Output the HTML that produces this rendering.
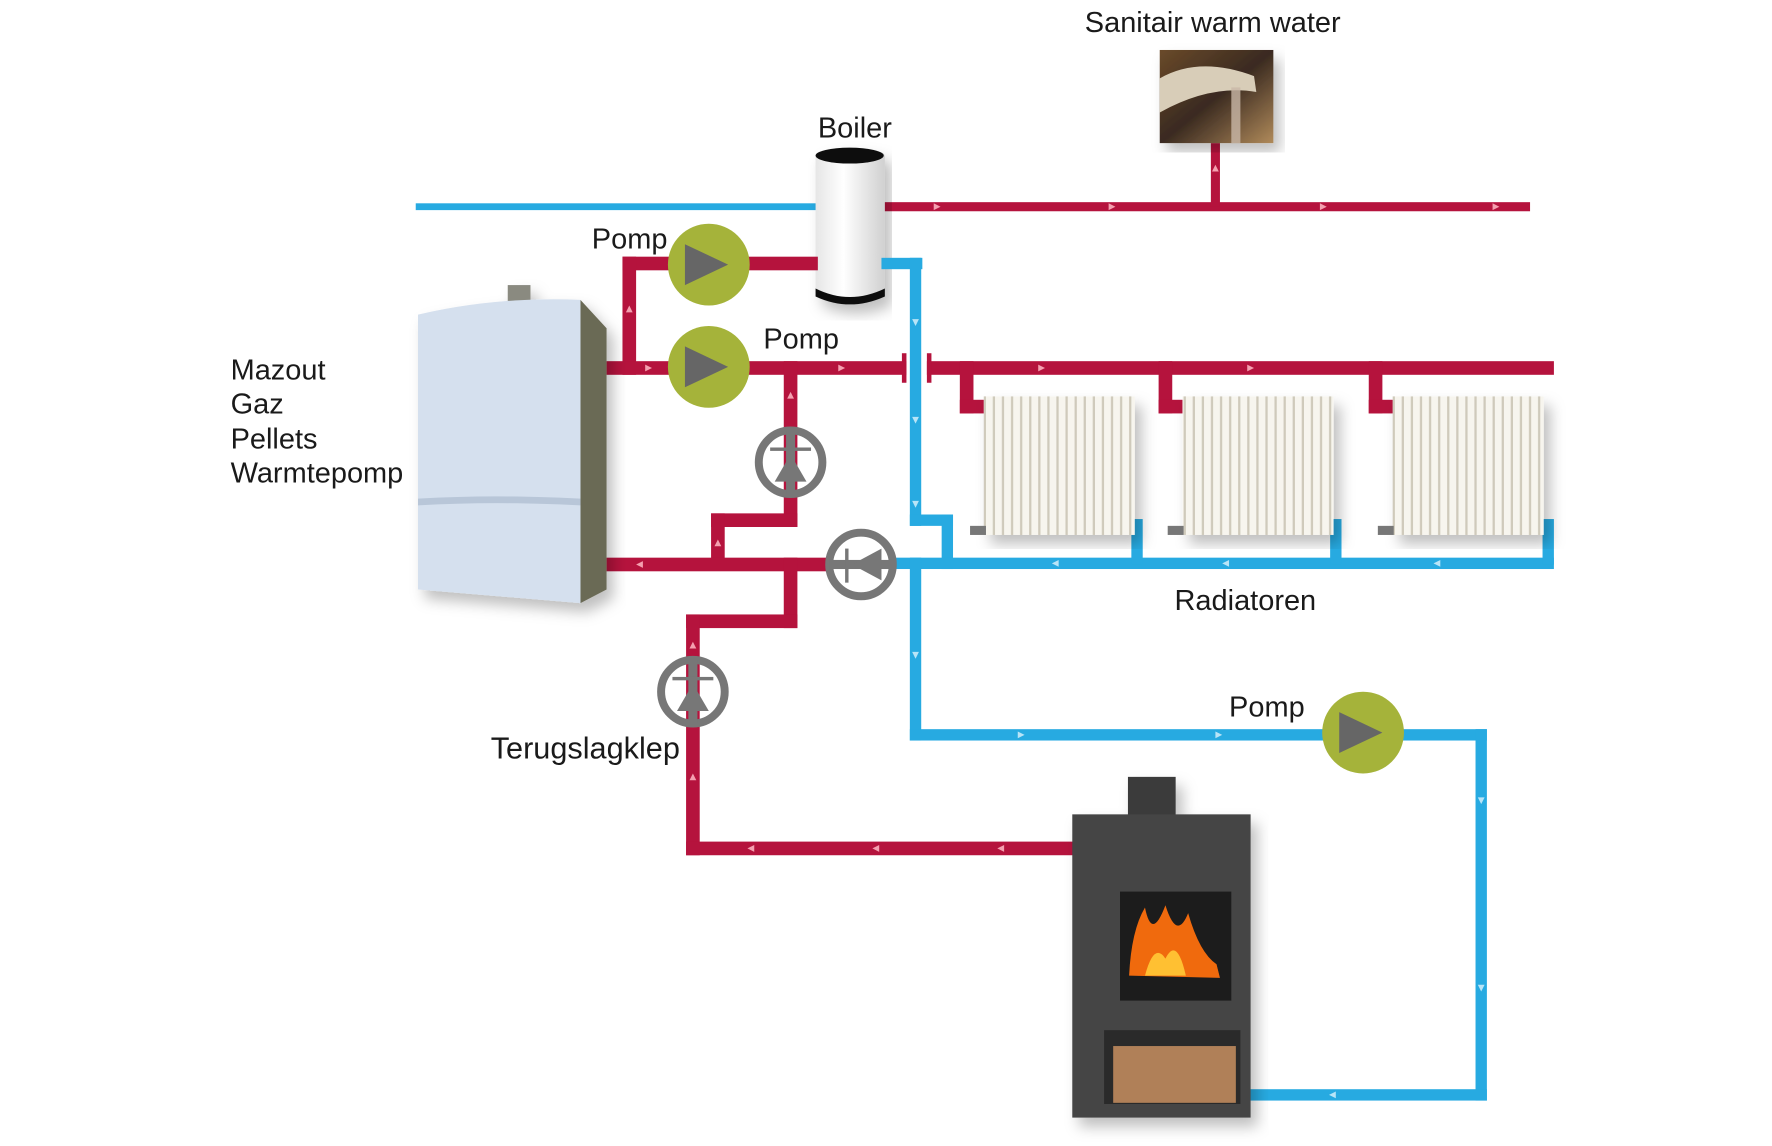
<!DOCTYPE html>
<html><head><meta charset="utf-8"><style>
html,body{margin:0;padding:0;background:#fff;}
svg{display:block}
text{font-family:"Liberation Sans",sans-serif;fill:#1a1a1a;font-size:25.5px}
</style></head><body>
<svg width="1772" height="1146" viewBox="0 0 1560 1009" preserveAspectRatio="none" xmlns="http://www.w3.org/2000/svg">
<defs>
<pattern id="fins" width="8" height="10" patternUnits="userSpaceOnUse"><rect width="8" height="10" fill="#f7f5ee"/><rect x="6" width="2" height="10" fill="#cfcabb"/></pattern>
<linearGradient id="cyl" x1="0" x2="1"><stop offset="0" stop-color="#e6e6e6"/><stop offset="0.4" stop-color="#ffffff"/><stop offset="1" stop-color="#d0d0d0"/></linearGradient>
<linearGradient id="tap" x1="0" y1="0" x2="1" y2="1"><stop offset="0" stop-color="#6a4a2a"/><stop offset="0.5" stop-color="#3a2a20"/><stop offset="1" stop-color="#b08a5a"/></linearGradient>
<filter id="sh"><feDropShadow dx="6" dy="8" stdDeviation="6" flood-opacity="0.25"/></filter>
</defs>
<g transform="translate(-4,-1)">
<!-- top pipes -->
<rect x="370" y="180" width="354" height="6" fill="#27aae1"/>
<rect x="780" y="179" width="571" height="8" fill="#b5133d"/>
<rect x="1070" y="127" width="8" height="56" fill="#b5133d"/>
<!-- tap -->
<rect x="1025" y="45" width="100" height="82" fill="url(#tap)" filter="url(#sh)"/>
<path d="M1025 70 Q1060 50 1108 68 L1110 82 Q1070 75 1025 100Z" fill="#d8cdb8"/>
<rect x="1088" y="78" width="8" height="49" fill="#c9b8a8" opacity="0.8"/>

<!-- boiler cylinder -->
<g filter="url(#sh)">
<rect x="722" y="135" width="61" height="128" rx="4" fill="url(#cyl)"/>
<ellipse cx="752" cy="138" rx="30" ry="7" fill="#111"/>
<path d="M722 255 Q752 270 783 255 L783 262 Q752 276 722 262Z" fill="#111"/>
</g>

<!-- red pump circuit -->
<g fill="#b5133d">
<rect x="552" y="227" width="172" height="12"/>
<rect x="552" y="227" width="12" height="104"/>
<rect x="538" y="319" width="264" height="12"/>
<rect x="820" y="319" width="552" height="12"/>
<rect x="798" y="312" width="4" height="26"/>
<rect x="820" y="312" width="4" height="26"/>
<rect x="849" y="319" width="12" height="46"/><rect x="849" y="353" width="24" height="12"/>
<rect x="1024" y="319" width="12" height="46"/><rect x="1024" y="353" width="24" height="12"/>
<rect x="1209" y="319" width="12" height="46"/><rect x="1209" y="353" width="24" height="12"/>
<rect x="694" y="319" width="12" height="146"/>
<rect x="630" y="453" width="76" height="12"/>
<rect x="630" y="453" width="12" height="50"/>
<rect x="538" y="492" width="195" height="12"/>
<rect x="694" y="492" width="12" height="62"/>
<rect x="608" y="542" width="98" height="12"/>
<rect x="608" y="542" width="12" height="212"/>
<rect x="608" y="742" width="342" height="12"/>
</g>
<!-- blue circuit -->
<g fill="#27aae1">
<rect x="780" y="228" width="36" height="10"/>
<rect x="805" y="228" width="10" height="236"/>
<rect x="805" y="454" width="38" height="10"/>
<rect x="833" y="454" width="10" height="48"/>
<rect x="788" y="492" width="584" height="10"/>
<rect x="1000" y="458" width="10" height="40"/>
<rect x="1175" y="458" width="10" height="40"/>
<rect x="1362" y="458" width="10" height="40"/>
<rect x="805" y="492" width="10" height="161"/>
<rect x="805" y="643" width="508" height="10"/>
<rect x="1303" y="643" width="10" height="327"/>
<rect x="1100" y="960" width="213" height="10"/>
</g>
<!-- flow arrows -->
<g fill="#f4a0b0">
<path d="M826 180v6l6-3z"/><path d="M980 180v6l6-3z"/><path d="M1166 180v6l6-3z"/><path d="M1318 180v6l6-3z"/>
<path d="M1071 152h6l-3-6z"/>
<path d="M555 276h6l-3-6z"/><path d="M572 322v6l6-3z"/><path d="M742 322v6l6-3z"/><path d="M918 322v6l6-3z"/><path d="M1102 322v6l6-3z"/>
<path d="M697 352h6l-3-6z"/><path d="M633 482h6l-3-6z"/><path d="M570 495v6l-6-3z"/>
<path d="M611 572h6l-3-6z"/><path d="M611 688h6l-3-6z"/>
<path d="M668 745v6l-6-3z"/><path d="M778 745v6l-6-3z"/><path d="M888 745v6l-6-3z"/>
</g>
<g fill="#b8e4f7">
<path d="M807 282h6l-3 6z"/><path d="M807 368h6l-3 6z"/><path d="M807 442h6l-3 6z"/>
<path d="M936 494v6l-6-3z"/><path d="M1086 494v6l-6-3z"/><path d="M1272 494v6l-6-3z"/>
<path d="M807 575h6l-3 6z"/><path d="M900 645v6l6-3z"/><path d="M1074 645v6l6-3z"/>
<path d="M1305 703h6l-3 6z"/><path d="M1305 868h6l-3 6z"/><path d="M1180 962v6l-6-3z"/>
</g>

<!-- pumps -->
<g><circle cx="628" cy="234" r="36" fill="#a5b33a"/><path d="M607 216v36l38-18z" fill="#666"/></g>
<g><circle cx="628" cy="324" r="36" fill="#a5b33a"/><path d="M607 306v36l38-18z" fill="#666"/></g>
<g><circle cx="1204" cy="646" r="36" fill="#a5b33a"/><path d="M1183 628v36l38-18z" fill="#666"/></g>

<!-- valves -->
<g fill="none" stroke="#777" stroke-width="7">
<circle cx="700" cy="408" r="28"/><circle cx="614" cy="610" r="28"/><circle cx="762" cy="498" r="28"/>
</g>
<g fill="#777">
<rect x="696" y="380" width="8" height="56"/><rect x="682" y="395" width="36" height="3"/><path d="M686 425h28l-14-24z"/>
<rect x="610" y="582" width="8" height="56"/><rect x="596" y="597" width="36" height="3"/><path d="M600 627h28l-14-24z"/>
<rect x="734" y="494" width="56" height="8"/><rect x="748" y="484" width="3" height="30"/><path d="M780 484v28l-26-14z"/>
</g>

<!-- radiators -->
<g filter="url(#sh)">
<rect x="870" y="350" width="133" height="122" fill="url(#fins)"/>
<rect x="1045" y="350" width="133" height="122" fill="url(#fins)"/>
<rect x="1230" y="350" width="133" height="122" fill="url(#fins)"/>
</g>
<g fill="#777"><rect x="858" y="464" width="14" height="8"/><rect x="1032" y="464" width="14" height="8"/><rect x="1217" y="464" width="14" height="8"/></g>

<!-- boiler appliance -->
<g filter="url(#sh)">
<rect x="451" y="252" width="20" height="14" fill="#8a8a80"/>
<path d="M515 265 L538 290 L538 520 L515 532Z" fill="#6b6a55"/>
<path d="M372 278 Q440 262 515 265 L515 532 L372 520Z" fill="#d5e0ee"/>
<path d="M372 440 Q440 436 515 440 L515 446 Q440 442 372 446Z" fill="#b8c6d8"/>
</g>

<!-- stove -->
<g filter="url(#sh)">
<rect x="997" y="685" width="42" height="36" fill="#3a3a3a"/>
<rect x="948" y="718" width="157" height="267" fill="#454545"/>
<rect x="990" y="786" width="98" height="96" fill="#1a1a1a"/>
<path d="M998 860 Q1000 820 1012 800 Q1018 830 1030 798 Q1040 830 1050 805 Q1060 840 1075 850 L1078 862Z" fill="#f06a10"/>
<path d="M1012 860 Q1020 830 1030 845 Q1040 825 1048 860Z" fill="#ffc030"/>
<rect x="976" y="908" width="120" height="65" fill="#2a2a2a"/>
<rect x="984" y="922" width="108" height="50" fill="#b08058"/>
</g>
</g>
<!-- labels -->
<text x="955" y="28">Sanitair warm water</text>
<text x="720" y="121">Boiler</text>
<text x="521" y="219">Pomp</text>
<text x="672" y="307">Pomp</text>
<text x="203" y="334">Mazout</text>
<text x="203" y="364">Gaz</text>
<text x="203" y="395">Pellets</text>
<text x="203" y="425">Warmtepomp</text>
<text x="1034" y="537">Radiatoren</text>
<text x="1082" y="631">Pomp</text>
<text x="432" y="668" style="font-size:27px">Terugslagklep</text>
</svg>
</body></html>
